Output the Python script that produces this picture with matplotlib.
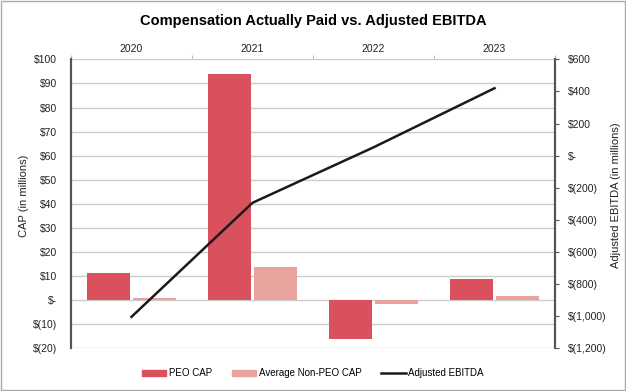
import matplotlib.pyplot as plt
import numpy as np
from matplotlib.patches import Rectangle, Patch
from matplotlib.lines import Line2D
from matplotlib.ticker import FuncFormatter

plt.rcParams['font.family'] = ['Liberation Sans', 'DejaVu Sans']

# Datos
years = ["2020", "2021", "2022", "2023"]
peo_cap = [11.4, 93.8, -16.0, 8.9]
non_peo_cap = [1.1, 14.0, -1.4, 1.8]
adj_ebitda = [-1003, -293, 52, 420]

red = "#D8515D"
pink = "#E8A39F"

def money(v, pos=None):
    if v == 0:
        return "$-"
    if v < 0:
        return "$({:,.0f})".format(-v)
    return "${:,.0f}".format(v)

fig = plt.figure(figsize=(6.26, 3.91), dpi=100)
ax = fig.add_axes([0.1134, 0.1087, 0.7732, 0.7396])
ax2 = ax.twinx()

x = np.arange(len(years))
w = 0.36
ax.bar(x - 0.19, peo_cap, width=w, color=red, zorder=3)
ax.bar(x + 0.19, non_peo_cap, width=w, color=pink, zorder=3)
ax2.plot(x, adj_ebitda, color="#1a1a1a", linewidth=1.8, zorder=4)

# Eje izquierdo
ax.set_xlim(-0.5, 3.5)
ax.set_ylim(-20, 100)
ax.set_yticks(np.arange(-20, 101, 10))
ax.yaxis.set_major_formatter(FuncFormatter(money))
ax.tick_params(axis="y", length=0, labelsize=7.5, pad=10, colors="#222222")
ax.grid(axis="y", color="#cccccc", linewidth=1, zorder=0)

# Eje derecho
ax2.set_ylim(-1200, 600)
ax2.set_yticks(np.arange(-1200, 601, 200))
ax2.yaxis.set_major_formatter(FuncFormatter(money))
ax2.tick_params(axis="y", length=3, width=0.8, color="#555555", labelsize=7.5, pad=6, labelcolor="#222222")

fig.text(24 / 626, 0.5, "CAP (in millions)", rotation=90, ha="center", va="center", fontsize=8, color="#222222")
fig.text(616 / 626, 0.5, "Adjusted EBITDA (in millions)", rotation=90, ha="center", va="center", fontsize=8, color="#222222")

# Años arriba
ax.xaxis.tick_top()
ax.set_xticks(x)
ax.set_xticklabels(years)
ax.set_xticks(np.arange(-0.5, 3.6, 1), minor=True)
ax.tick_params(axis="x", which="major", length=0, labelsize=7.5, pad=4, colors="#222222")
ax.tick_params(axis="x", which="minor", length=3, width=0.8, color="#bbbbbb")

for a in (ax, ax2):
    a.spines["top"].set_visible(False)
    a.spines["bottom"].set_visible(False)
    a.spines["left"].set_color("#555555")
    a.spines["right"].set_color("#555555")
    a.spines["left"].set_linewidth(1.5)
    a.spines["right"].set_linewidth(1.5)

fig.suptitle("Compensation Actually Paid vs. Adjusted EBITDA", fontsize=10.5, fontweight="bold", y=0.965, x=0.5)

# Leyenda
handles = [
    Patch(color=red, label="PEO CAP"),
    Patch(color=pink, label="Average Non-PEO CAP"),
    Line2D([0], [0], color="#1a1a1a", linewidth=1.8, label="Adjusted EBITDA"),
]
fig.legend(handles=handles, loc="center", bbox_to_anchor=(0.5, 0.046), ncol=3, frameon=False,
           fontsize=7, handlelength=2.5, handleheight=0.6, columnspacing=2.0, handletextpad=0.3)

# Marco
fig.patches.append(Rectangle((0.002, 0.003), 0.996, 0.994, transform=fig.transFigure,
                             fill=False, edgecolor="#aaaaaa", linewidth=1))

plt.savefig("out.png", dpi=100)
